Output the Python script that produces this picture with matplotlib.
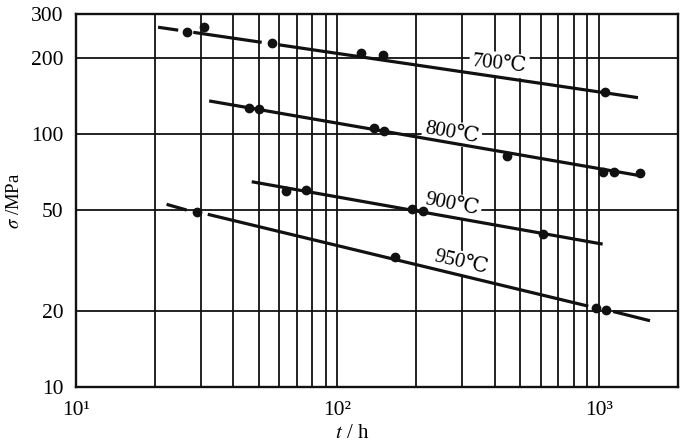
import matplotlib
matplotlib.use("Agg")
import matplotlib.pyplot as plt
from matplotlib.ticker import FixedLocator, FixedFormatter, NullFormatter

plt.rcParams['font.family'] = ['Liberation Serif', 'DejaVu Serif']
plt.rcParams['mathtext.fontset'] = 'stix'

# ---------------- data ----------------
# 700 C
t700 = [26.6, 30.9, 56.3, 123.0, 148.9, 1054]
s700 = [254.7, 265.9, 229.7, 209.7, 206.5, 147.7]
line700_t = [[20.6, 24.6], [28.1, 51.3], [59.4, 1410]]
line700_s = [[265.9, 258.9], [253.8, 231.7], [226.7, 139.9]]

# 800 C
t800 = [46.0, 50.2, 138.3, 150.6, 443.6, 1038.5, 1141, 1435]
s800 = [126.8, 125.8, 105.8, 103.2, 82.4, 70.8, 71.2, 70.1]
line800_t = [[32.3, 1457]]
line800_s = [[135.8, 68.5]]

# 900 C
t900 = [63.6, 75.8, 193.2, 212.9, 612.4]
s900 = [59.6, 60.1, 50.8, 49.8, 40.3]
line900_t = [[47.0, 1033]]
line900_s = [[65.0, 36.8]]

# 950 C
t950 = [29.1, 166, 974, 1064]
s950 = [49.2, 32.7, 20.5, 20.1]
line950_t = [[22.2, 26.5], [31.9, 910], [1134, 1567]]
line950_s = [[52.9, 50.2], [48.3, 20.9], [19.9, 18.3]]

temp_labels = ["700℃", "800℃", "900℃", "950℃"]

x_major = [10, 100, 1000]
x_major_labels = ["10¹", "10²", "10³"]
x_minor = [20, 30, 40, 50, 60, 70, 80, 90, 200, 300, 400, 500, 600, 700, 800, 900]
y_ticks = [10, 20, 50, 100, 200, 300]
y_tick_labels = ["10", "20", "50", "100", "200", "300"]

# ---------------- figure ----------------
fig = plt.figure(figsize=(6.96, 4.44), dpi=100)
L, R, T, B = 76, 677.7, 14, 387
ax = fig.add_axes([L / 696, 1 - B / 444, (R - L) / 696, (B - T) / 444])
ax.set_xscale('log')
ax.set_yscale('log')
ax.set_xlim(10, 2000)
ax.set_ylim(10, 300)

ax.xaxis.set_major_locator(FixedLocator(x_major))
ax.xaxis.set_major_formatter(FixedFormatter(x_major_labels))
ax.xaxis.set_minor_locator(FixedLocator(x_minor))
ax.xaxis.set_minor_formatter(NullFormatter())
ax.yaxis.set_major_locator(FixedLocator(y_ticks))
ax.yaxis.set_major_formatter(FixedFormatter(y_tick_labels))
ax.yaxis.set_minor_locator(FixedLocator([]))

ax.tick_params(which='both', length=0)
ax.tick_params(axis='y', labelsize=15.5, pad=9)
ax.tick_params(axis='x', labelsize=15.5, pad=10)

ax.grid(True, which='both', axis='x', color='#111111', lw=1.3)
ax.grid(True, which='major', axis='y', color='#111111', lw=1.3)
for sp in ax.spines.values():
    sp.set_linewidth(1.7)
    sp.set_color('#111111')

series = [
    (t700, s700, line700_t, line700_s),
    (t800, s800, line800_t, line800_s),
    (t900, s900, line900_t, line900_s),
    (t950, s950, line950_t, line950_s),
]
for tx, sy, lt, ls in series:
    for xs, ys in zip(lt, ls):
        ax.plot(xs, ys, color='#111111', lw=2.3, solid_capstyle='butt', zorder=3)
    ax.plot(tx, sy, 'o', color='#111111', ms=6, zorder=4)

label_pos = [(414.6, 190.2), (274.1, 101.4), (274.1, 52.6), (296.7, 31.0)]
label_rot = [-6, -10, -11, -13]
for txt, (lx, ly), rot in zip(temp_labels, label_pos, label_rot):
    ax.text(lx, ly, txt, fontsize=15, rotation=rot, ha='center', va='center',
            rotation_mode='anchor', zorder=2.5,
            bbox=dict(boxstyle='square,pad=0.12', fc='white', ec='none'))

ax.set_ylabel(r'$\sigma$ /MPa', fontsize=13.5)
ax.yaxis.set_label_coords(-0.088, 0.5)
fig.text(352 / 696, 1.5 / 444, r'$t$ / h', fontsize=15, ha='center', va='bottom')

fig.savefig('out.png', dpi=100)
